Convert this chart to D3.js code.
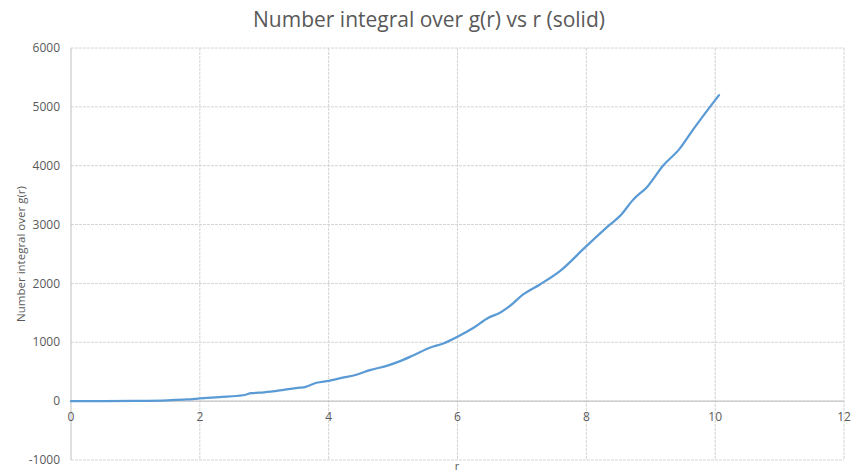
<!DOCTYPE html>
<html><head><meta charset="utf-8">
<script src="https://cdn.jsdelivr.net/npm/d3@7"></script>
<style>body{margin:0;background:#fff;}text{font-family:"Open Sans","Noto Sans",sans-serif;}</style>
</head><body><svg id="c" width="854" height="475"></svg>
<script>
const rValues = [0, 0.5, 1.0, 1.5, 1.8, 2.0, 2.3, 2.67, 2.8, 3.0, 3.3, 3.55, 3.63, 3.81, 4.0, 4.2, 4.43, 4.64, 4.9, 5.11, 5.31, 5.57, 5.78, 6.0, 6.25, 6.48, 6.66, 6.81, 7.02, 7.28, 7.59, 8.0, 8.37, 8.52, 8.73, 8.94, 9.19, 9.45, 9.66, 9.89, 10.06];
const nValues = [0, 1, 5, 15, 28, 45, 70, 100, 135, 150, 190, 228, 238, 312, 346, 395, 448, 527, 600, 680, 776, 907, 980, 1094, 1247, 1417, 1502, 1614, 1813, 1983, 2209, 2633, 3002, 3143, 3427, 3636, 4000, 4290, 4616, 4956, 5199];
const xTicks = [0, 2, 4, 6, 8, 10, 12];
const yTicks = [-1000, 0, 1000, 2000, 3000, 4000, 5000, 6000];
const title = "Number integral over g(r) vs r (solid)";
const xTitle = "r";
const yTitle = "Number integral over g(r)";

const svg = d3.select("#c");
const L = 71, R = 844, T = 48, B = 460;
const x = d3.scaleLinear().domain([0, 12]).range([L, R]);
const y = d3.scaleLinear().domain([-1000, 6000]).range([B, T]);
const grey = "#595959";

// gridlines
svg.append("g").selectAll("line").data(yTicks).join("line")
  .attr("x1", L).attr("x2", R).attr("y1", d => y(d)).attr("y2", d => y(d))
  .attr("stroke", "#d4d4d4").attr("stroke-dasharray", "3,1");
svg.append("g").selectAll("line").data(xTicks.filter(d => d > 0)).join("line")
  .attr("y1", T).attr("y2", B).attr("x1", d => x(d)).attr("x2", d => x(d))
  .attr("stroke", "#d4d4d4").attr("stroke-dasharray", "3,1");

// axis lines
svg.append("line").attr("x1", L).attr("x2", L).attr("y1", T).attr("y2", B).attr("stroke", "#bfbfbf");
svg.append("line").attr("x1", L).attr("x2", R).attr("y1", y(0)).attr("y2", y(0)).attr("stroke", "#bfbfbf");

// tick labels
svg.append("g").selectAll("text").data(yTicks).join("text")
  .attr("x", L - 11).attr("y", d => y(d)).attr("dy", "0.35em")
  .attr("text-anchor", "end").attr("font-size", 12).attr("fill", grey).text(d => d);
svg.append("g").selectAll("text").data(xTicks).join("text")
  .attr("x", d => x(d)).attr("y", y(0) + 16).attr("dy", "0.35em")
  .attr("text-anchor", "middle").attr("font-size", 12).attr("fill", grey).text(d => d);

// line
const data = rValues.map((r, i) => ({r, n: nValues[i]}));
svg.append("path").datum(data)
  .attr("d", d3.line().x(d => x(d.r)).y(d => y(d.n)).curve(d3.curveMonotoneX))
  .attr("fill", "none").attr("stroke", "#5B9BD5").attr("stroke-width", 2.25)
  .attr("stroke-linejoin", "round").attr("stroke-linecap", "round");

// titles
svg.append("text").attr("x", 429).attr("y", 20).attr("dy", "0.35em").attr("text-anchor", "middle")
  .attr("font-size", 21).attr("fill", grey).text(title);
svg.append("text").attr("x", 457).attr("y", 470).attr("text-anchor", "middle")
  .attr("font-size", 11).attr("fill", grey).text(xTitle);
svg.append("text").attr("transform", "translate(21,254) rotate(-90)").attr("dy", "0.35em")
  .attr("text-anchor", "middle").attr("font-size", 11.5).attr("fill", grey).text(yTitle);
</script></body></html>
